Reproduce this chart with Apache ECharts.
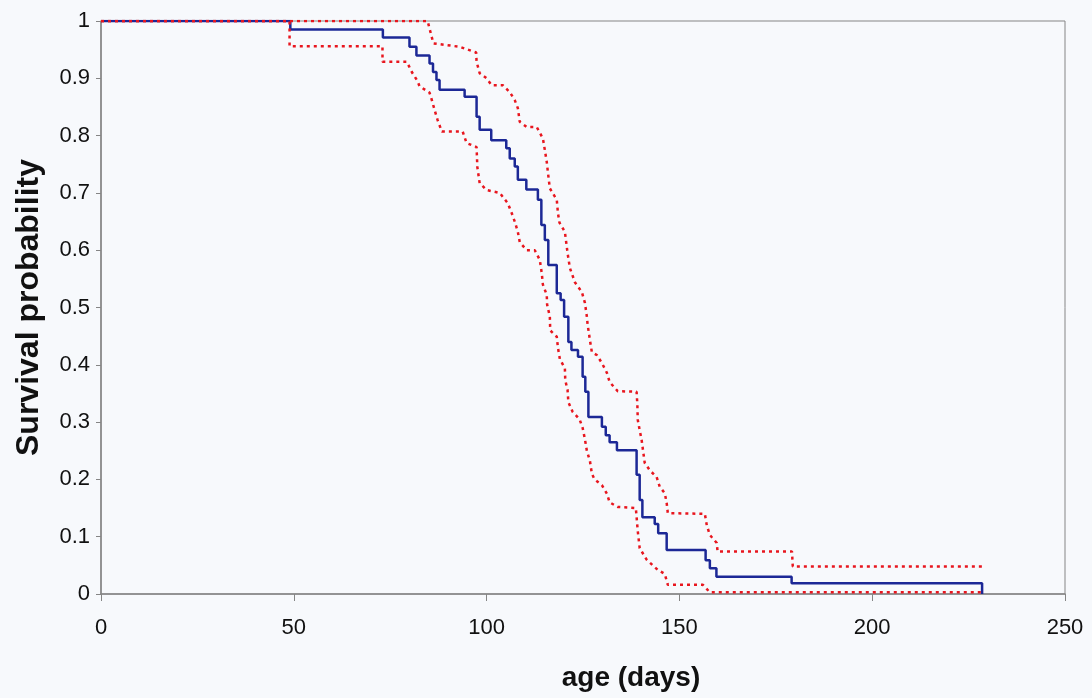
<!DOCTYPE html>
<html>
<head>
<meta charset="utf-8">
<script src="https://cdn.jsdelivr.net/npm/echarts@6/dist/echarts.min.js"></script>
<style>
  html, body { margin: 0; padding: 0; background: #f7f9fc; }
  #km { width: 1092px; height: 698px; }
</style>
</head>
<body>
<div id="km"></div>
<script>
// Kaplan-Meier estimate: [age in days, survival] at each step
var survival = [
    [0, 1], [49.1, 0.985], [73.1, 0.971], [80.0, 0.955], [81.8, 0.94], [85.2, 0.926],
    [86.1, 0.911], [87.0, 0.897], [87.8, 0.88], [94.3, 0.868], [97.4, 0.833], [98.2, 0.81],
    [101.2, 0.792], [105.1, 0.778], [106.0, 0.76], [107.3, 0.746], [108.1, 0.723],
    [110.3, 0.706], [113.3, 0.688], [114.2, 0.644], [115.1, 0.618], [116.0, 0.574],
    [118.2, 0.525], [119.2, 0.513], [120.1, 0.484], [121.2, 0.44], [122.0, 0.426],
    [123.7, 0.414], [124.9, 0.379], [125.6, 0.353], [126.4, 0.309], [129.9, 0.292],
    [130.9, 0.277], [131.9, 0.265], [133.8, 0.251], [138.9, 0.208], [139.7, 0.164],
    [140.4, 0.134], [143.6, 0.122], [144.5, 0.106], [146.7, 0.077], [156.8, 0.059],
    [157.9, 0.045], [159.6, 0.03], [179.1, 0.0186], [228.5, 0]
];

// upper confidence bound
var upperBound = [
    [0, 1], [84.7, 1], [86.2, 0.961], [93, 0.955], [97.3, 0.945], [97.4, 0.929],
    [98.2, 0.909], [100.0, 0.9], [101.3, 0.888], [104.2, 0.888], [106.0, 0.876],
    [107.3, 0.862], [108.1, 0.848], [108.6, 0.824], [110.4, 0.815], [113.0, 0.815],
    [114.6, 0.795], [115.1, 0.775], [115.6, 0.754], [115.9, 0.736], [116.4, 0.708],
    [118.2, 0.688], [118.5, 0.665], [118.9, 0.648], [120.3, 0.632], [121.0, 0.595],
    [121.6, 0.569], [122.9, 0.544], [124.7, 0.527], [125.5, 0.508], [126.0, 0.484],
    [126.2, 0.47], [126.8, 0.443], [127.3, 0.422], [128.6, 0.417], [129.9, 0.403],
    [131.2, 0.386], [131.9, 0.37], [134.0, 0.354], [138.9, 0.353], [139.1, 0.33],
    [139.2, 0.304], [139.7, 0.286], [140.2, 0.269], [141.0, 0.229], [142.3, 0.216],
    [144.1, 0.204], [144.9, 0.187], [146.2, 0.176], [146.7, 0.159], [147.0, 0.141],
    [156.6, 0.14], [157.1, 0.12], [157.9, 0.103], [159.7, 0.089], [159.9, 0.074],
    [179.2, 0.074], [179.4, 0.048], [228.5, 0.048]
];

// lower confidence bound
var lowerBound = [
    [0, 1], [48.9, 1], [48.9, 0.956], [73.0, 0.956], [73.0, 0.929], [79.3, 0.929],
    [80.6, 0.911], [82.1, 0.895], [82.6, 0.886], [85.2, 0.875], [85.8, 0.862],
    [86.5, 0.845], [87.3, 0.827], [88.4, 0.807], [93.8, 0.807], [94.8, 0.787],
    [97.4, 0.78], [97.6, 0.745], [98.2, 0.717], [100.0, 0.705], [103.4, 0.7],
    [105.5, 0.682], [106.5, 0.665], [107.3, 0.65], [108.1, 0.632], [108.6, 0.614],
    [110.4, 0.6], [112.5, 0.6], [113.8, 0.583], [114.3, 0.56], [114.6, 0.54],
    [115.6, 0.522], [115.7, 0.505], [116.4, 0.484], [116.5, 0.46], [118.2, 0.449],
    [118.5, 0.43], [119.0, 0.41], [120.3, 0.394], [120.4, 0.373], [121.0, 0.356],
    [121.2, 0.335], [122.3, 0.318], [124.1, 0.305], [124.9, 0.29], [125.5, 0.27],
    [126.0, 0.25], [126.8, 0.232], [127.3, 0.21], [128.0, 0.2], [129.9, 0.19],
    [131.2, 0.175], [131.9, 0.16], [134.0, 0.152], [138.7, 0.15], [139.2, 0.11],
    [139.7, 0.08], [141.5, 0.06], [144.4, 0.042], [146.2, 0.035], [147.0, 0.016],
    [156.1, 0.016], [157.9, 0.003], [228.5, 0.003]
];

var xTicks = [0, 50, 100, 150, 200, 250];
var yTicks = [0, 0.1, 0.2, 0.3, 0.4, 0.5, 0.6, 0.7, 0.8, 0.9, 1];

(function drawSurvival() {
    var chartDom = document.getElementById('km');
    var myChart = echarts.init(chartDom, null, { renderer: 'canvas' });
    var option;

    var axisColor = '#858585';
    var labelStyle = {
        color: '#111',
        fontFamily: 'Liberation Sans, Arial, sans-serif',
        fontSize: 22
    };
    var boundStyle = {
        color: '#e8161e',
        width: 2.5,
        type: [3, 4]
    };

    option = {
        backgroundColor: '#f7f9fc',
        animation: false,
        grid: {
            left: 101,
            right: 27,
            top: 21,
            bottom: 104,
            show: true,
            borderColor: axisColor,
            borderWidth: 1
        },
        xAxis: {
            type: 'value',
            min: xTicks[0],
            max: xTicks[xTicks.length - 1],
            interval: 50,
            name: 'age (days)',
            nameLocation: 'middle',
            nameGap: 70,
            nameTextStyle: {
                color: '#111',
                fontFamily: 'Liberation Sans, Arial, sans-serif',
                fontWeight: 'bold',
                fontSize: 28,
                padding: [0, 0, 0, 96]
            },
            axisLine: { lineStyle: { color: axisColor, width: 1.5 } },
            axisTick: { show: true, length: 7, lineStyle: { color: axisColor } },
            axisLabel: Object.assign({ margin: 23 }, labelStyle),
            splitLine: { show: false }
        },
        yAxis: {
            type: 'value',
            min: yTicks[0],
            max: yTicks[yTicks.length - 1],
            interval: 0.1,
            name: 'Survival probability',
            nameLocation: 'middle',
            nameGap: 56,
            nameTextStyle: {
                color: '#111',
                fontFamily: 'Liberation Sans, Arial, sans-serif',
                fontWeight: 'bold',
                fontSize: 32
            },
            axisLine: { show: true, lineStyle: { color: axisColor, width: 1.5 } },
            axisTick: { show: true, length: 5, lineStyle: { color: axisColor } },
            axisLabel: Object.assign({ margin: 11 }, labelStyle),
            splitLine: { show: false }
        },
        series: [
            {
                name: 'Survival',
                type: 'line',
                step: 'end',
                showSymbol: false,
                data: survival,
                lineStyle: { color: '#1c2896', width: 2.5 },
                z: 2
            },
            {
                name: 'Upper bound',
                type: 'line',
                showSymbol: false,
                data: upperBound,
                lineStyle: boundStyle,
                z: 3
            },
            {
                name: 'Lower bound',
                type: 'line',
                showSymbol: false,
                data: lowerBound,
                lineStyle: boundStyle,
                z: 3
            }
        ]
    };

    option && myChart.setOption(option);
})();
</script>
</body>
</html>
